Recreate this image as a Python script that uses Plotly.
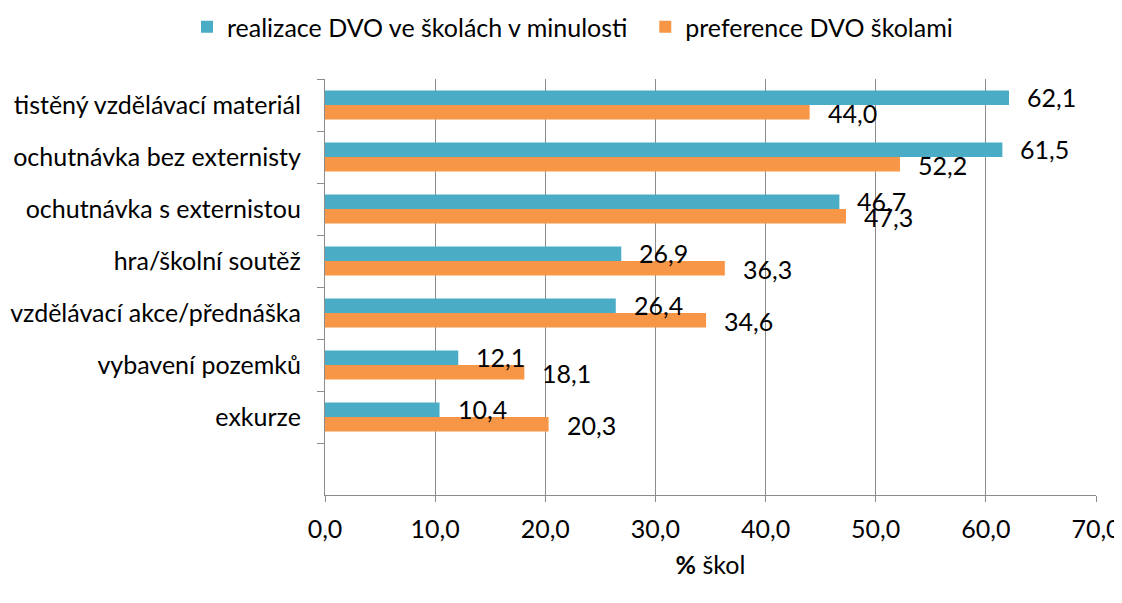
import plotly.graph_objects as go

categories = [
    "tistěný vzdělávací materiál",
    "ochutnávka bez externisty",
    "ochutnávka s externistou",
    "hra/školní soutěž",
    "vzdělávací akce/přednáška",
    "vybavení pozemků",
    "exkurze",
]
blank_slot = [" "]
realizace = [62.1, 61.5, 46.7, 26.9, 26.4, 12.1, 10.4]
preference = [44.0, 52.2, 47.3, 36.3, 34.6, 18.1, 20.3]
series_names = ["realizace DVO ve školách v minulosti", "preference DVO školami"]
x_ticks = [0, 10, 20, 30, 40, 50, 60, 70]

TEAL = "#4BACC6"
ORANGE = "#F79646"
FONT = "Lato"
FS = 25
PAD = "\u00a0" * 2

fig = go.Figure()
fig.add_trace(go.Bar(y=categories, x=realizace, orientation="h", name=series_names[0] + PAD,
                     marker=dict(color=TEAL, line=dict(width=0))))
fig.add_trace(go.Bar(y=categories, x=preference, orientation="h", name=series_names[1],
                     marker=dict(color=ORANGE, line=dict(width=0))))

annotations = []
for vals, ys in ((realizace, -8), (preference, 8)):
    for c, v in zip(categories, vals):
        annotations.append(dict(x=v, y=c, xref="x", yref="y", text=f"{v:.1f}".replace(".", ","),
                                showarrow=False, xanchor="left", yanchor="middle",
                                xshift=16, yshift=-ys, font=dict(size=FS, color="black", family=FONT)))

fig.update_layout(
    width=1122, height=587,
    margin=dict(l=317, r=34, t=71, b=100, autoexpand=False),
    paper_bgcolor="white", plot_bgcolor="white",
    barmode="group", bargap=0.44, bargroupgap=0,
    separators=", ",
    font=dict(family=FONT, size=FS, color="black"),
    legend=dict(orientation="h", x=-0.179, xref="paper", xanchor="left", y=1.125, yref="paper",
                yanchor="middle", font=dict(size=FS, family=FONT), itemwidth=30,
                traceorder="normal"),
    annotations=annotations,
    showlegend=True,
)
fig.update_xaxes(range=[0, 70], tickvals=x_ticks, tickformat=".1f",
                 showgrid=True, gridcolor="#8c8c8c", gridwidth=1.3,
                 showline=True, linecolor="#8c8c8c", linewidth=1.3,
                 ticks="outside", ticklen=6, tickcolor="#8c8c8c", tickwidth=1.3,
                 ticklabelstandoff=6, zeroline=False, automargin=False,
                 title=dict(text="<b>%</b> škol", standoff=14, font=dict(size=FS)),
                 tickfont=dict(size=FS))
fig.update_yaxes(categoryorder="array", categoryarray=categories + blank_slot,
                 range=[len(categories) + 0.5, -0.5], type="category",
                 showline=True, linecolor="#8c8c8c", linewidth=1.3,
                 ticks="outside", ticklen=7, tickcolor="#8c8c8c", tickwidth=1.3,
                 tickson="boundaries", ticklabelstandoff=18, showgrid=False,
                 automargin=False, tickfont=dict(size=FS))

fig.write_html("out.html")
